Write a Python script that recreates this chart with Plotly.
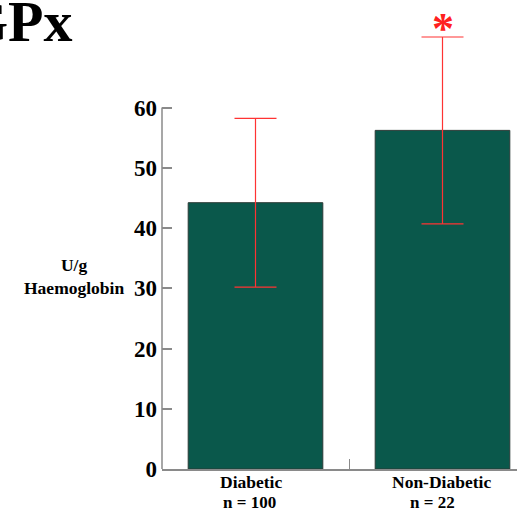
import plotly.graph_objects as go

# GPx activity by group
groups = ["Diabetic", "Non-Diabetic"]
group_n = [100, 22]
gpx_mean = [44.2, 56.2]
gpx_sd = [14.0, 15.5]
y_ticks = [0, 10, 20, 30, 40, 50, 60]

SERIF = "Liberation Serif, Times New Roman, serif"
AXIS_GREY = "#8a8a8a"

W, H = 517, 512
ML, MR, MT, MB = 162, 0, 17, 43
pw, ph = W - ML - MR, H - MT - MB
PX_PER_UNIT = 6.025      # vertical scale
PX_PER_GROUP = 187.0     # horizontal spacing of the groups
NAME_SHIFT = [-5, -1]    # horizontal nudge of the group names (px)
N_SHIFT = [-6, -10]      # horizontal nudge of the sample-size lines (px)


def paper_y(px):
    """Pixel row (from the top) to paper y."""
    return (H - MB - px) / ph


fig = go.Figure()
fig.add_trace(go.Bar(
    x=groups,
    y=gpx_mean,
    width=0.72,
    marker=dict(color="#0a584b", line=dict(color="#2b3a36", width=1)),
    error_y=dict(type="data", array=gpx_sd, visible=True,
                 color="#ff3333", thickness=1.2, width=21),
    showlegend=False,
))

# significance marker above the non-diabetic group
fig.add_annotation(
    x=groups[1], y=gpx_mean[1] + gpx_sd[1] + 1.4,
    xref="x", yref="y", text="*", showarrow=False,
    font=dict(family=SERIF, size=44, color="#ff2020", weight="bold"),
    xanchor="center", yanchor="middle", borderpad=0,
)

# y axis line only spans the labelled range
fig.add_shape(type="line", xref="paper", yref="y", x0=0, x1=0,
              y0=y_ticks[0], y1=y_ticks[-1],
              line=dict(color=AXIS_GREY, width=1.5))

# group labels with sample sizes under the axis
for g, n, s1, s2 in zip(groups, group_n, NAME_SHIFT, N_SHIFT):
    fig.add_annotation(
        x=g, y=paper_y(482.5), xref="x", yref="paper", text=f"<b>{g}</b>",
        showarrow=False, xanchor="center", yanchor="middle",
        xshift=s1, borderpad=0,
        font=dict(family=SERIF, size=17.5, color="black"),
    )
    fig.add_annotation(
        x=g, y=paper_y(502.5), xref="x", yref="paper", text=f"<b>n = {n}</b>",
        showarrow=False, xanchor="center", yanchor="middle",
        xshift=s2, borderpad=0,
        font=dict(family=SERIF, size=17, color="black"),
    )

# chart title, partly running off the left edge
fig.add_annotation(
    x=(74 - ML) / pw, y=paper_y(21), xref="paper", yref="paper",
    text="<b>GPx</b>", showarrow=False, xanchor="right", yanchor="middle",
    borderpad=0,
    font=dict(family=SERIF, size=58, color="black"),
)

# y axis title
fig.add_annotation(
    x=(73.5 - ML) / pw, y=paper_y(276), xref="paper", yref="paper",
    text="<b>U/g<br>Haemoglobin</b>", showarrow=False,
    xanchor="center", yanchor="middle", borderpad=0,
    font=dict(family=SERIF, size=17.5, color="black"),
)

fig.update_layout(
    width=W, height=H,
    margin=dict(l=ML, r=MR, t=MT, b=MB, autoexpand=False),
    paper_bgcolor="white", plot_bgcolor="white",
    xaxis=dict(
        range=[-0.5, -0.5 + pw / PX_PER_GROUP],
        tickmode="array", tickvals=groups, showticklabels=False,
        tickson="boundaries", ticks="inside", ticklen=10,
        tickcolor=AXIS_GREY, showline=True, linecolor=AXIS_GREY, linewidth=1.5,
        showgrid=False, zeroline=False, automargin=False,
    ),
    yaxis=dict(
        range=[0, ph / PX_PER_UNIT],
        tickmode="array", tickvals=y_ticks,
        ticks="inside", ticklen=10, tickcolor=AXIS_GREY, tickwidth=1.5,
        showline=False, showgrid=False, zeroline=False, automargin=False,
        ticklabelstandoff=4,
        tickfont=dict(family=SERIF, size=23, color="black", weight="bold"),
    ),
)

fig.write_html("out.html")
